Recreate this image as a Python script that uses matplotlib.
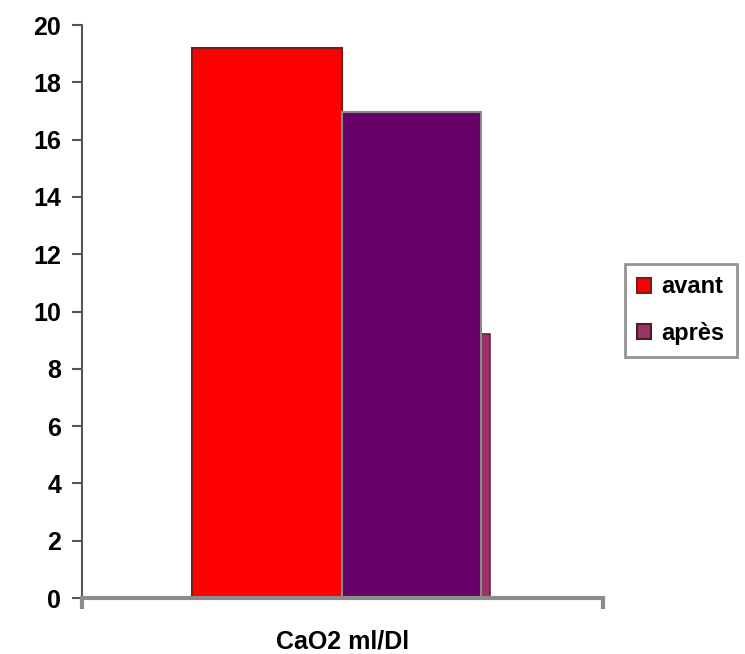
import matplotlib
matplotlib.use("Agg")
import matplotlib.pyplot as plt
from matplotlib.patches import Patch
import numpy as np

# values
categories = ["CaO2 ml/Dl"]
series_names = ["avant", "après"]
avant = [19.2]
apres = [16.95]
apres_back = [9.2]   # the lower maroon block seen behind the "après" bar
y_ticks = list(range(0, 21, 2))

plt.rcParams["font.family"] = ["Liberation Sans", "DejaVu Sans"]

fig = plt.figure(figsize=(7.45, 6.54), dpi=100)
ax = fig.add_axes([0.110, 0.0856, 0.699, 0.876])

x = np.arange(len(categories))

# maroon block behind, then the two visible bars
ax.bar(x, apres_back, width=0.284, align="edge", color="#993366",
       edgecolor="#6a2244", linewidth=1.2, zorder=1)
ax.bar(x, avant, width=-0.288, align="edge", color="#ff0000",
       edgecolor="#7a1c1c", linewidth=1.5, zorder=2, label=series_names[0])
ax.bar(x, apres, width=0.266, align="edge", color="#660066",
       edgecolor="#8a8a8a", linewidth=1.5, zorder=3, label=series_names[1])

ax.set_xlim(-0.5, 0.5)
ax.set_ylim(0, 20)
ax.set_yticks(y_ticks)
ax.set_yticklabels([str(v) for v in y_ticks], fontsize=18, fontweight="bold")

# x axis: only the two end ticks, no labels
ax.set_xticks([-0.5, 0.5])
ax.set_xticklabels(["", ""])
ax.tick_params(axis="x", direction="out", length=8, width=3, color="#8c8c8c")
ax.tick_params(axis="y", direction="out", length=7, width=1.5, color="#555555", pad=8)

ax.set_xlabel(categories[0], fontsize=18, fontweight="bold", labelpad=11)

for side in ["top", "right"]:
    ax.spines[side].set_visible(False)
ax.spines["left"].set_color("#555555")
ax.spines["left"].set_linewidth(1.5)
ax.spines["bottom"].set_color("#8c8c8c")
ax.spines["bottom"].set_linewidth(3)
ax.spines["bottom"].set_zorder(4)

# legend swatches
handles = [Patch(facecolor="#ff0000", edgecolor="#7a1c1c", linewidth=1.5),
           Patch(facecolor="#993366", edgecolor="#4a1a30", linewidth=1.5)]
leg = fig.legend(handles, series_names, loc="upper left", bbox_to_anchor=(0.839, 0.597),
                 prop={"weight": "bold", "size": 17}, frameon=True, fancybox=False,
                 handlelength=0.6, handleheight=0.6, handletextpad=0.45,
                 labelspacing=1.0, borderpad=0.5, borderaxespad=0)
leg.get_frame().set_edgecolor("#7a7a7a")
leg.get_frame().set_linewidth(2)

fig.savefig("out.png", dpi=100)
